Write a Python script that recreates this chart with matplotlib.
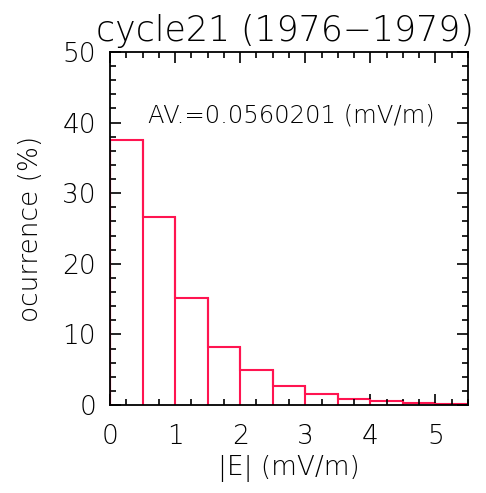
import numpy as np
import matplotlib.pyplot as plt
from matplotlib.ticker import MultipleLocator

# histogram of |E| for cycle 21, bins of 0.5 mV/m
bin_edges = [0.0, 0.5, 1.0, 1.5, 2.0, 2.5, 3.0, 3.5, 4.0, 4.5, 5.0, 5.5]
occurrence = [37.6, 26.6, 15.2, 8.2, 4.9, 2.7, 1.5, 0.9, 0.5, 0.3, 0.2]

title = "cycle21 (1976\u22121979)"
av_text = "AV.=0.0560201 (mV/m)"

plt.rcParams['font.family'] = ['DejaVu Sans']
plt.rcParams['font.weight'] = 'light'
plt.rcParams['axes.titleweight'] = 'light'
plt.rcParams['axes.labelweight'] = 'light'
fig = plt.figure(figsize=(4.86, 4.93), dpi=100)
ax = fig.add_axes([110 / 486, 88 / 493, 358 / 486, 353 / 493])

red = '#ff1450'
ax.stairs(occurrence, bin_edges, color=red, linewidth=1.5, fill=False)
ax.vlines(bin_edges[1:-1], 0, [max(a, b) for a, b in zip(occurrence[:-1], occurrence[1:])],
          color=red, linewidth=1.5)
ax.vlines(bin_edges[0], 0, occurrence[0], color=red, linewidth=1.5)

ax.set_xlim(0, 5.5)
ax.set_ylim(0, 50)
ax.xaxis.set_major_locator(MultipleLocator(1))
ax.xaxis.set_minor_locator(MultipleLocator(0.25))
ax.yaxis.set_major_locator(MultipleLocator(10))
ax.yaxis.set_minor_locator(MultipleLocator(2))
ax.tick_params(which='both', direction='in', top=True, right=True, labelsize=19, width=1.2)
ax.tick_params(which='major', length=8)
ax.tick_params(which='minor', length=4)
ax.tick_params(axis='x', which='major', pad=14)
ax.tick_params(axis='y', which='major', pad=10)
for s in ax.spines.values():
    s.set_linewidth(1.3)

ax.text(0.58, 41, av_text, fontsize=17.5, ha='left', va='center')
ax.set_title(title, fontsize=25, pad=8, x=0.49)
ax.set_xlabel("|E| (mV/m)", fontsize=19, labelpad=4)
ax.set_ylabel("ocurrence (%)", fontsize=19, labelpad=14)

fig.savefig('out.png', dpi=100)
